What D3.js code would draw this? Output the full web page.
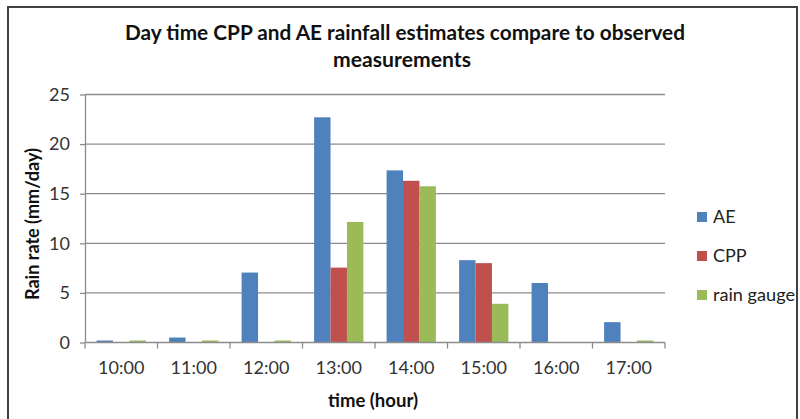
<!DOCTYPE html>
<html>
<head>
<meta charset="utf-8">
<script src="https://cdn.jsdelivr.net/npm/d3@7/dist/d3.min.js"></script>
<style>
  html, body { margin: 0; padding: 0; background: #fff; }
  svg { display: block; }
</style>
</head>
<body>
<script>
// Rainfall estimates by hour (mm/day)
const hours = ["10:00", "11:00", "12:00", "13:00", "14:00", "15:00", "16:00", "17:00"];
const seriesNames = ["AE", "CPP", "rain gauge"];
const aeValues = [0.2, 0.5, 7.05, 22.7, 17.35, 8.3, 6.0, 2.05];
const cppValues = [0, 0, 0, 7.55, 16.3, 8.0, 0, 0];
const gaugeValues = [0.2, 0.2, 0.2, 12.15, 15.75, 3.9, 0, 0.2];
const yTicks = [0, 5, 10, 15, 20, 25];
const colors = ["#4f81bd", "#c0504d", "#9bbb59"];

const W = 800, H = 419;
const plot = { left: 85, right: 665, top: 94.5, bottom: 342.5 };
const fontFamily = "Lato, 'Open Sans', sans-serif";

const svg = d3.select("body").append("svg").attr("width", W).attr("height", H);

// outer frame
svg.append("path")
  .attr("d", `M8,${H + 5} L8,7 L797,7 L797,${H + 5}`)
  .attr("fill", "none").attr("stroke", "#404040").attr("stroke-width", 2);

const rows = hours.map((h, i) => ({ hour: h, values: [aeValues[i], cppValues[i], gaugeValues[i]] }));

const x0 = d3.scaleBand().domain(hours).range([plot.left, plot.right]).paddingInner(0.32).paddingOuter(0.16);
const x1 = d3.scaleBand().domain(d3.range(seriesNames.length)).range([0, x0.bandwidth()]);
const y = d3.scaleLinear().domain([0, 25]).range([plot.bottom, plot.top]);

// horizontal gridlines
svg.append("g").selectAll("line").data(yTicks.filter(t => t > 0)).join("line")
  .attr("x1", plot.left).attr("x2", plot.right)
  .attr("y1", d => y(d)).attr("y2", d => y(d))
  .attr("stroke", "#8c8c8c").attr("stroke-width", 1.3);

// bars
const groups = svg.append("g").selectAll("g").data(rows).join("g")
  .attr("transform", d => `translate(${x0(d.hour)},0)`);
groups.selectAll("rect").data(d => d.values.map((v, i) => ({ v, i }))).join("rect")
  .filter(d => d.v > 0)
  .attr("x", d => x1(d.i))
  .attr("width", x1.bandwidth())
  .attr("y", d => y(d.v))
  .attr("height", d => y(0) - y(d.v))
  .attr("fill", d => colors[d.i]);

// y axis
const yAxis = svg.append("g").attr("transform", `translate(${plot.left},0)`)
  .call(d3.axisLeft(y).tickValues(yTicks).tickSize(5).tickSizeOuter(0).tickPadding(10));
yAxis.select(".domain").attr("stroke", "#8c8c8c").attr("stroke-width", 1.3);
yAxis.selectAll(".tick line").attr("stroke", "#8c8c8c").attr("stroke-width", 1.3);
yAxis.selectAll(".tick text").attr("font-family", fontFamily).attr("font-size", 18).attr("fill", "#333");

// x axis with boundary ticks between categories
const xAxisG = svg.append("g").attr("transform", `translate(0,${plot.bottom})`);
xAxisG.append("line").attr("x1", plot.left).attr("x2", plot.right)
  .attr("stroke", "#8c8c8c").attr("stroke-width", 1.3);
const step = x0.step();
const bounds = d3.range(hours.length + 1).map(i => plot.left + i * step);
xAxisG.selectAll("line.tk").data(bounds).join("line").attr("class", "tk")
  .attr("x1", d => d).attr("x2", d => d).attr("y1", 0).attr("y2", 6)
  .attr("stroke", "#8c8c8c").attr("stroke-width", 1.3);
xAxisG.selectAll("text").data(hours).join("text")
  .attr("x", d => x0(d) + x0.bandwidth() / 2).attr("y", 31)
  .attr("text-anchor", "middle")
  .attr("font-family", fontFamily).attr("font-size", 18).attr("fill", "#333")
  .text(d => d);

// axis titles
svg.append("text").attr("x", 373).attr("y", 407).attr("text-anchor", "middle")
  .attr("font-family", fontFamily).attr("font-size", 19).attr("font-weight", "bold")
  .attr("fill", "#111").attr("textLength", 90).attr("lengthAdjust", "spacingAndGlyphs")
  .text("time (hour)");
svg.append("text").attr("transform", "translate(39,224) rotate(-90)").attr("text-anchor", "middle")
  .attr("font-family", fontFamily).attr("font-size", 19).attr("font-weight", "bold")
  .attr("fill", "#111").attr("textLength", 152).attr("lengthAdjust", "spacingAndGlyphs")
  .text("Rain  rate (mm/day)");

// chart title
svg.append("text").attr("x", 405).attr("y", 40).attr("text-anchor", "middle")
  .attr("font-family", fontFamily).attr("font-size", 20).attr("font-weight", "bold")
  .attr("fill", "#111").attr("textLength", 560).attr("lengthAdjust", "spacingAndGlyphs")
  .text("Day time CPP and AE rainfall estimates compare to observed");
svg.append("text").attr("x", 402).attr("y", 67).attr("text-anchor", "middle")
  .attr("font-family", fontFamily).attr("font-size", 20).attr("font-weight", "bold")
  .attr("fill", "#111").attr("textLength", 138).attr("lengthAdjust", "spacingAndGlyphs")
  .text("measurements");

// legend
const legend = svg.append("g").selectAll("g").data(seriesNames).join("g")
  .attr("transform", (d, i) => `translate(697,${212 + i * 39})`);
legend.append("rect").attr("width", 10).attr("height", 10).attr("fill", (d, i) => colors[i]);
legend.append("text").attr("x", 16).attr("y", 11)
  .attr("font-family", fontFamily).attr("font-size", 18).attr("fill", "#222")
  .each(function (d) {
    if (d === "rain gauge") d3.select(this).attr("textLength", 82).attr("lengthAdjust", "spacingAndGlyphs");
  })
  .text(d => d);
</script>
</body>
</html>
